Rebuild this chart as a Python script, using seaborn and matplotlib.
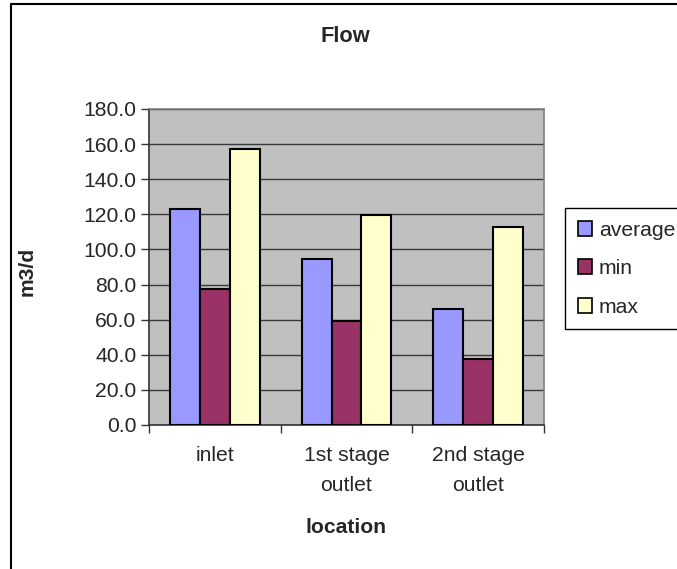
import matplotlib
matplotlib.use("Agg")
import matplotlib.pyplot as plt
from matplotlib.patches import Patch
from matplotlib.lines import Line2D
import seaborn as sns
import pandas as pd

# Flow by sampling location (m3/d)
locations = ["inlet", "1st stage\noutlet", "2nd stage\noutlet"]
series = ["average", "min", "max"]
average_flow = [123.0, 94.5, 66.0]
min_flow = [77.4, 59.3, 37.6]
max_flow = [157.2, 119.6, 112.9]
colors = ["#9999FF", "#993366", "#FFFFCC"]
y_ticks = [0, 20, 40, 60, 80, 100, 120, 140, 160, 180]

df = pd.DataFrame({
    "location": locations * 3,
    "series": [s for s in series for _ in locations],
    "flow": average_flow + min_flow + max_flow,
})

sns.set_theme(style="white")
plt.rcParams["font.family"] = ["Liberation Sans", "DejaVu Sans"]

FS = 15.2
W, H = 677, 569
fig = plt.figure(figsize=(W / 100, H / 100), dpi=100)
fig.patch.set_facecolor("white")
ax = fig.add_axes([149 / W, 1 - 425 / H, (544 - 149) / W, (425 - 109) / H])
ax.set_facecolor("#C0C0C0")

sns.barplot(data=df, x="location", y="flow", hue="series",
            hue_order=series, order=locations, palette=colors,
            width=0.68, gap=0, edgecolor="black", linewidth=1.5,
            saturation=1, legend=False, ax=ax, zorder=3)

ax.set_ylim(0, 180)
ax.set_xlim(-0.5, 2.5)
ax.set_yticks(y_ticks)
ax.set_yticklabels([f"{v:.1f}" for v in y_ticks], fontsize=FS)
ax.yaxis.grid(True, color="#383838", linewidth=1.0, zorder=1)
ax.set_axisbelow(True)

# category boundaries carry the tick marks, labels sit in between
ax.set_xticks([-0.5, 0.5, 1.5, 2.5])
ax.set_xticklabels([])
ax.set_xticks([0, 1, 2], minor=True)
ax.set_xticklabels(locations, minor=True, fontsize=FS, linespacing=1.75)
ax.tick_params(axis="x", which="minor", length=0, pad=15)
ax.tick_params(axis="x", which="major", length=6, width=1, color="#333333",
               direction="out", bottom=True)
ax.tick_params(axis="y", length=6, width=1, color="#333333",
               direction="out", left=True, pad=3)

for side in ["top", "right"]:
    ax.spines[side].set_color("#808080")
    ax.spines[side].set_linewidth(1.2)
for side in ["left", "bottom"]:
    ax.spines[side].set_color("#333333")
    ax.spines[side].set_linewidth(1.2)

ax.set_xlabel("location", fontsize=FS, fontweight="bold")
ax.xaxis.set_label_coords(0.5, (425 - 518) / 316)
ax.set_ylabel("m3/d", fontsize=FS, fontweight="bold")
ax.yaxis.set_label_coords((37 - 149) / 395, (425 - 271) / 316)

fig.text(345 / W, 1 - 36 / H, "Flow", ha="center", va="center",
         fontsize=FS + 0.5, fontweight="bold")

handles = [Patch(facecolor=c, edgecolor="black", linewidth=1.2) for c in colors]
leg = ax.legend(handles, series, loc="upper left",
                bbox_to_anchor=(565 / W, 1 - 208 / H),
                bbox_transform=fig.transFigure, fontsize=FS,
                frameon=True, fancybox=False, framealpha=1,
                edgecolor="black", handlelength=0.7, handleheight=0.7,
                handletextpad=0.3, labelspacing=0.92, borderpad=0.6,
                borderaxespad=0)
leg.get_frame().set_linewidth(1.0)

# chart area outline
fig.add_artist(Line2D([11 / W, 11 / W], [0, 1 - 4 / H], color="black",
                      linewidth=1.5, transform=fig.transFigure))
fig.add_artist(Line2D([11 / W, 1], [1 - 4 / H, 1 - 4 / H], color="black",
                      linewidth=1.5, transform=fig.transFigure))

fig.savefig("out.png", dpi=100, facecolor="white")
